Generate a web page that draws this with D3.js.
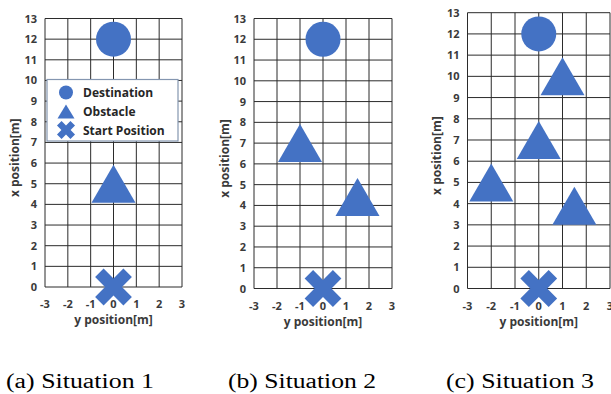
<!DOCTYPE html>
<html>
<head>
<meta charset="utf-8">
<script src="https://cdn.jsdelivr.net/npm/d3@7"></script>
<style>
  body { margin: 0; background: #fff; }
  svg { display: block; }
  .tick-label { font-family: "Open Sans", "DejaVu Sans", sans-serif; font-weight: 700; font-size: 11px; fill: #3a3a3a; }
  .axis-title { font-family: "Open Sans", "DejaVu Sans", sans-serif; font-weight: 700; font-size: 12px; fill: #3a3a3a; }
  .legend-text { font-family: "Open Sans", "DejaVu Sans", sans-serif; font-weight: 700; font-size: 12px; fill: #262626; }
  .caption { font-family: "Liberation Serif", "Times New Roman", serif; font-size: 20.5px; fill: #000; }
</style>
</head>
<body>
<svg id="chart" width="611" height="394"></svg>
<script>
// axis values (lateral y in metres, forward x in metres)
const yTicks = [-3, -2, -1, 0, 1, 2, 3];
const xTicks = [0, 1, 2, 3, 4, 5, 6, 7, 8, 9, 10, 11, 12, 13];

// [y, x] positions in metres
const destination = [0, 12];
const startPosition = [0, 0];
const obstacles1 = [[0, 5]];
const obstacles2 = [[-1, 7], [1.5, 4.4]];
const obstacles3 = [[1, 10], [0, 7], [-2, 5], [1.5, 3.9]];

const captions = ["(a) Situation 1", "(b) Situation 2", "(c) Situation 3"];
const legendLabels = ["Destination", "Obstacle", "Start Position"];

const blue = "#4472c4";
const svg = d3.select("#chart");

// panel placement (pixels)
const panels = [
  { obstacles: obstacles1, left: 45, right: 182, top: 18.5, bottom: 287, titleX: 15, legend: true, capX: 6 },
  { obstacles: obstacles2, left: 254, right: 392, top: 18.5, bottom: 288.5, titleX: 225, legend: false, capX: 228 },
  { obstacles: obstacles3, left: 467.5, right: 610, top: 12.7, bottom: 288.5, titleX: 437, legend: false, capX: 446 }
];

function triangle(g, cx, cy, w, h) {
  g.append("path")
    .attr("d", `M${cx},${cy - h / 2}L${cx + w / 2},${cy + h / 2}L${cx - w / 2},${cy + h / 2}Z`)
    .attr("fill", blue);
}

function cross(g, cx, cy, s, t) {
  // X made of two thick bars
  const a = s / 2, b = t / 2;
  const pts = [[-b, -a], [b, -a], [b, -b], [a, -b], [a, b], [b, b], [b, a], [-b, a], [-b, b], [-a, b], [-a, -b], [-b, -b]];
  g.append("path")
    .attr("d", "M" + pts.map(p => p.join(",")).join("L") + "Z")
    .attr("transform", `translate(${cx},${cy}) rotate(45)`)
    .attr("fill", blue);
}

panels.forEach((p, i) => {
  const x = d3.scaleLinear().domain([-3, 3]).range([p.left, p.right]);
  const y = d3.scaleLinear().domain([0, 13]).range([p.bottom, p.top]);
  const g = svg.append("g");

  // grid
  g.selectAll(".vline").data(yTicks).enter().append("line")
    .attr("x1", d => x(d)).attr("x2", d => x(d))
    .attr("y1", y(13)).attr("y2", y(0))
    .attr("stroke", "#2b2b2b").attr("stroke-width", 1);
  g.selectAll(".hline").data(xTicks).enter().append("line")
    .attr("x1", x(-3)).attr("x2", x(3))
    .attr("y1", d => y(d)).attr("y2", d => y(d))
    .attr("stroke", "#2b2b2b").attr("stroke-width", 1);

  // tick labels
  g.selectAll(".ylab").data(xTicks).enter().append("text")
    .attr("class", "tick-label")
    .attr("x", x(-3) - 8).attr("y", d => y(d) + 4)
    .attr("text-anchor", "end")
    .text(d => d);
  g.selectAll(".xlab").data(yTicks).enter().append("text")
    .attr("class", "tick-label")
    .attr("x", d => x(d)).attr("y", y(0) + 21)
    .attr("text-anchor", "middle")
    .text(d => d);

  // axis titles
  g.append("text").attr("class", "axis-title")
    .attr("x", (x(-3) + x(3)) / 2).attr("y", y(0) + 37)
    .attr("text-anchor", "middle")
    .text("y position[m]");
  g.append("text").attr("class", "axis-title")
    .attr("transform", `translate(${p.titleX + 4},${(y(0) + y(13)) / 2 + 5}) rotate(-90)`)
    .attr("text-anchor", "middle")
    .text("x position[m]");

  // markers
  g.append("circle")
    .attr("cx", x(destination[0])).attr("cy", y(destination[1]))
    .attr("r", 17.5).attr("fill", blue);
  p.obstacles.forEach(o => triangle(g, x(o[0]), y(o[1]), 44, 38));
  cross(g, x(startPosition[0]), y(startPosition[1]), 40, 12);

  // legend
  if (p.legend) {
    const lg = g.append("g");
    lg.append("rect")
      .attr("x", 47).attr("y", 79.5).attr("width", 131).attr("height", 61.5)
      .attr("fill", "#fff").attr("stroke", "#8496b0").attr("stroke-width", 1.2);
    const rows = [92.5, 111.5, 130];
    lg.append("circle").attr("cx", 66).attr("cy", rows[0]).attr("r", 7).attr("fill", blue);
    triangle(lg, 66, rows[1], 17, 14);
    cross(lg, 66, rows[2], 19, 6.5);
    lg.selectAll(".lt").data(legendLabels).enter().append("text")
      .attr("class", "legend-text")
      .attr("x", 83).attr("y", (d, k) => rows[k] + 4.5)
      .text(d => d);
  }

  // caption (stretched wide like the source figure)
  svg.append("text").attr("class", "caption")
    .attr("x", p.capX).attr("y", 388)
    .attr("textLength", 148).attr("lengthAdjust", "spacingAndGlyphs")
    .text(captions[i]);
});
</script>
</body>
</html>
